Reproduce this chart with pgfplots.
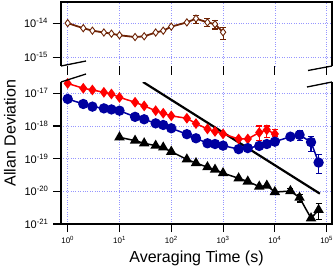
\documentclass[border=0pt]{standalone}
\usepackage{fontspec}
\setmainfont{Liberation Sans}
\usepackage{pgfplots}
\pgfplotsset{compat=1.18}
\definecolor{cred}{RGB}{255,0,0}
\definecolor{cblue}{RGB}{0,0,160}
\definecolor{cbrown}{RGB}{110,35,5}
\definecolor{cgrid}{RGB}{150,150,255}
\begin{document}
\begin{tikzpicture}[x=1pt,y=1pt]
% ---------------- top axis
\begin{axis}[scale only axis, width=271pt, height=64pt, xmode=log, ymode=log,
  xmin=0.743, xmax=1.27e5,
  at={(61pt,204pt)}, anchor=south west,
  axis line style={draw=none}, grid=major,
  major grid style={dotted, cgrid, line width=0.6pt},
  xtick={1,10,100,1000,10000,100000}, tick align=outside,
  ytick pos=left, xtick pos=bottom, major tick length=8.5pt, minor tick length=0pt,
  tick style={black, line width=1.1pt},
  yticklabel style={font=\fontsize{11}{12}\selectfont, xshift=-1pt},
  ymin=5.5e-16, ymax=4.17e-14, ytick={1e-15,1e-14},
  yticklabels={10\textsuperscript{-15},10\textsuperscript{-14}},
  xticklabels={}]
\addplot[draw=none, mark=none, forget plot, error bars/.cd, y dir=both, y explicit,
  error bar style={line width=1.1pt, cbrown},
  error mark options={rotate=90, mark size=3pt, line width=1.1pt, cbrown}] coordinates {
 (300,1.36e-14) += (0,2.8e-15) -= (0,3.6e-15)
 (500,1.05e-14) += (0,3.5e-15) -= (0,2.6e-15)
 (700,9.3e-15) += (0,2.6e-15) -= (0,2.6e-15)
 (1000,5.4e-15) += (0,2.0e-15) -= (0,2.0e-15)
};
\addplot[cbrown, line width=1.8pt, mark=diamond*, mark size=3.6pt,
  mark options={fill=white, draw=cbrown, line width=0.9pt}] coordinates {
 (1,1e-14) (2,7.1e-15) (3,6.0e-15) (5,5.3e-15) (7,4.9e-15) (10,4.4e-15)
 (20,3.9e-15) (30,4.1e-15) (50,5.3e-15) (70,6.0e-15) (100,7.9e-15)
 (200,1.05e-14) (300,1.36e-14) (500,1.05e-14) (700,9.3e-15) (1000,5.4e-15)
};
\end{axis}
% ---------------- lower axis
\begin{axis}[scale only axis, width=271pt, height=142pt, xmode=log, ymode=log,
  xmin=0.743, xmax=1.27e5,
  at={(61pt,46pt)}, anchor=south west,
  axis line style={draw=none}, grid=major,
  major grid style={dotted, cgrid, line width=0.6pt},
  xtick={1,10,100,1000,10000,100000}, tick align=outside,
  ytick pos=left, xtick pos=bottom, major tick length=8pt, minor tick length=0pt,
  tick style={black, line width=1.1pt},
  yticklabel style={font=\fontsize{11}{12}\selectfont, xshift=-1pt},
  xticklabel style={font=\fontsize{8}{9}\selectfont, yshift=-1pt},
  ymin=1e-21, ymax=2.21e-17, ytick={1e-21,1e-20,1e-19,1e-18,1e-17},
  yticklabels={10\textsuperscript{-21},10\textsuperscript{-20},10\textsuperscript{-19},10\textsuperscript{-18},10\textsuperscript{-17}},
  xticklabels={10\textsuperscript{0},10\textsuperscript{1},10\textsuperscript{2},10\textsuperscript{3},10\textsuperscript{4},10\textsuperscript{5}}]
\addplot[draw=none, mark=none, forget plot, error bars/.cd, y dir=both, y explicit,
  error bar style={line width=1.1pt, cred},
  error mark options={rotate=90, mark size=3pt, line width=1.1pt, cred}] coordinates {
 (5000,6.3e-19) += (0,3.7e-19) -= (0,2.6e-19)
 (7000,7.6e-19) += (0,2.4e-19) -= (0,3.1e-19)
 (10000,5.7e-19) += (0,2.0e-19) -= (0,0.8e-19)
};
\addplot[draw=none, mark=none, forget plot, error bars/.cd, y dir=both, y explicit,
  error bar style={line width=1.1pt, cblue},
  error mark options={rotate=90, mark size=3pt, line width=1.1pt, cblue}] coordinates {
 (30000,5.3e-19) += (0,2.0e-19) -= (0,1.6e-19)
 (50000,3.2e-19) += (0,1.6e-19) -= (0,1.55e-19)
 (70000,7.6e-20) += (0,5.4e-20) -= (0,4.0e-20)
};
\addplot[draw=none, mark=none, forget plot, error bars/.cd, y dir=both, y explicit,
  error bar style={line width=1.1pt, black},
  error mark options={rotate=90, mark size=3pt, line width=1.1pt, black}] coordinates {
 (20000,1.02e-20) += (0,2e-21) -= (0,1.5e-21)
 (30000,6.4e-21) += (0,1.7e-21) -= (0,1.7e-21)
 (70000,2.7e-21) += (0,1.6e-21) -= (0,1.3e-21)
};
\addplot[black, line width=2.2pt, no marks] coordinates {(28.4,2.22e-17) (74000,8.5e-21)};
\addplot[cred, line width=1.5pt, mark=diamond*, mark size=4.2pt] coordinates {
 (1,2.0e-17) (2,1.42e-17) (3,1.26e-17) (5,1.07e-17) (7,9.5e-18) (10,7.5e-18)
 (20,5.3e-18) (30,4.1e-18) (50,2.93e-18) (70,2.45e-18) (100,2.03e-18)
 (200,1.72e-18) (300,1.18e-18) (500,8.1e-19) (700,6.8e-19) (1000,5.7e-19)
 (2000,4.0e-19) (3000,4.0e-19) (5000,6.3e-19) (7000,7.6e-19) (10000,5.7e-19)
};
\addplot[cblue, line width=1.5pt, mark=*, mark size=4.4pt] coordinates {
 (1,6.7e-18) (2,4.7e-18) (3,3.9e-18) (5,3.45e-18) (7,3.2e-18) (10,2.93e-18)
 (20,1.9e-18) (30,1.6e-18) (50,1.2e-18) (70,1.07e-18) (100,8.5e-19)
 (200,5.6e-19) (300,4.2e-19) (500,2.95e-19) (700,2.8e-19) (1000,2.5e-19)
 (2000,1.95e-19) (3000,2.1e-19) (5000,2.45e-19) (7000,2.8e-19) (10000,3.3e-19)
 (20000,4.7e-19) (30000,5.3e-19) (50000,3.2e-19) (70000,7.6e-20)
};
\addplot[black, line width=1.5pt, mark=triangle*, mark size=4.6pt] coordinates {
 (10,4.5e-19) (20,3.55e-19) (30,2.95e-19) (50,2.5e-19) (70,2.2e-19)
 (100,1.63e-19) (200,9.5e-20) (300,7.3e-20) (500,5.5e-20) (700,4.6e-20)
 (1000,3.6e-20) (2000,2.5e-20) (3000,2.0e-20) (5000,1.4e-20) (7000,1.5e-20)
 (10000,9.5e-21) (20000,1.02e-20) (30000,6.4e-21) (50000,1.5e-21) (70000,2.7e-21)
};
\end{axis}
% frames
\draw[line width=1.4pt] (61,204) -- (61,268) -- (332,268) -- (332,204);
\draw[line width=1.4pt] (61,188) -- (61,46) -- (332,46) -- (332,188);
% break marks
\draw[line width=1.3pt] (61,204) -- (86,209);
\draw[line width=1.3pt] (61,188) -- (86,196);
\draw[line width=1.3pt] (308,199.5) -- (332,204);
\draw[line width=1.3pt] (307,183) -- (332,188);
% labels
\node[rotate=90, font=\fontsize{16}{16}\selectfont] at (10,137) {Allan Deviation};
\node[anchor=base, font=\fontsize{16}{16}\selectfont] at (196.5,8) {Averaging Time (s)};
\pgfresetboundingbox
\path[use as bounding box] (0,0) rectangle (336,270);
\end{tikzpicture}
\end{document}
